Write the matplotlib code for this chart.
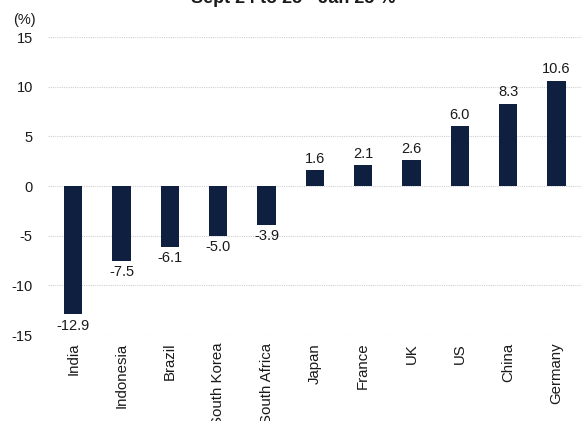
import matplotlib
matplotlib.use("Agg")
import matplotlib.pyplot as plt
import numpy as np

plt.rcParams['font.family'] = ['Liberation Sans', 'DejaVu Sans']

countries = ["India", "Indonesia", "Brazil", "South Korea", "South Africa",
             "Japan", "France", "UK", "US", "China", "Germany"]
values = [-12.9, -7.5, -6.1, -5.0, -3.9, 1.6, 2.1, 2.6, 6.0, 8.3, 10.6]
yticks = [15, 10, 5, 0, -5, -10, -15]

bar_color = "#0f1f3f"
txt = "#1a1a1a"

fig = plt.figure(figsize=(5.86, 4.21), dpi=100)
ax = fig.add_axes([0.082, 0.204, 0.909, 0.708])

x = np.arange(len(countries))
ax.bar(x, values, width=0.38, color=bar_color, zorder=3)

# etichette valori: sotto le barre negative, sopra le positive
for xi, v in zip(x, values):
    if v < 0:
        ax.text(xi, v - 0.45, f"{v:.1f}", ha="center", va="top", fontsize=10.5, color=txt)
    else:
        ax.text(xi, v + 0.45, f"{v:.1f}", ha="center", va="bottom", fontsize=10.5, color=txt)

ax.set_ylim(-15, 15)
ax.set_xlim(-0.52, 10.5)
ax.set_yticks(yticks)
ax.set_yticklabels([str(t) for t in yticks], fontsize=10.5, color=txt)
ax.set_xticks(x)
ax.set_xticklabels(countries, rotation=90, fontsize=10.8, color=txt, va="top")
ax.tick_params(axis="x", length=0, pad=5.5)
ax.tick_params(axis="y", length=0, pad=11)
ax.yaxis.grid(True, linestyle=(0, (1, 1)), color="#d0d0d0", linewidth=0.8, zorder=0)
for s in ax.spines.values():
    s.set_visible(False)

fig.text(0.022, 0.935, "(%)", fontsize=10.5, color=txt, ha="left", va="bottom")
fig.text(0.5, 0.993, "Sept 24 to 25 - Jan 25 %", fontsize=13, fontweight="bold",
         color=txt, ha="center", va="baseline")

fig.savefig("out.png", dpi=100, facecolor="white")
